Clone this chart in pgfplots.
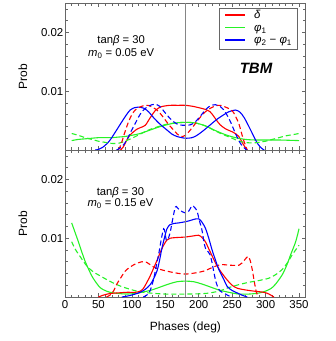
\documentclass[border=0pt]{standalone}
\usepackage{fontspec}
\setmainfont{Liberation Sans}
\usepackage{pgfplots}
\pgfplotsset{compat=1.18}
\definecolor{myred}{rgb}{1,0,0}
\definecolor{mygreen}{rgb}{0.15,0.95,0.15}
\definecolor{myblue}{rgb}{0,0,1}
\definecolor{frame}{rgb}{0.4,0.4,0.4}
\pgfplotsset{
  panel/.style={
    scale only axis, width=240.7bp, height=147bp,
    xmin=0, xmax=360, ymin=0, ymax=0.025,
    scaled y ticks=false,
    axis line style={frame, line width=0.7pt},
    tick style={frame, line width=0.5pt},
    major tick length=4bp, minor tick length=2.5bp,
    tick align=inside,
    xtick={0,50,...,350}, minor xtick={0,10,...,360},
    ytick={0.01,0.02}, yticklabels={0.01,0.02},
    minor ytick={0.002,0.004,0.006,0.008,0.012,0.014,0.016,0.018,0.022,0.024},
    tick label style={font=\fontsize{11.5}{13}\selectfont},
    yticklabel style={inner xsep=1.5bp},
    ylabel={Prob},
    ylabel style={at={(axis description cs:-0.175,0.5)}, anchor=center, rotate=0, font=\fontsize{12}{14}\selectfont},
    every axis plot/.append style={line width=1.1pt},
    smooth,
  },
  dsh/.style={dash pattern=on 5bp off 3bp},
}
\newcommand{\legline}[1]{\textcolor{#1}{\rule[0.28em]{20bp}{1.4bp}}}
\begin{document}
\begin{tikzpicture}
\path[use as bounding box] (0,0) rectangle (336bp,-341bp);
% ---------------- top panel -----------------
\begin{axis}[panel, at={(65bp,-3bp)}, anchor=north west,
  xticklabels={},
]
% red solid
\addplot[myred] coordinates {(83,0) (87,0.0005) (92.5,0.0017) (97,0.0025) (102.5,0.0031) (107,0.0035) (112.5,0.0038) (120,0.0042) (127.5,0.0055) (135,0.0067) (142.5,0.0073) (150,0.0075) (157.5,0.0076) (170,0.0076) (180,0.0076) (192.5,0.0074) (200,0.0072) (210,0.0069) (217,0.0065) (222,0.0058) (227,0.0050) (232,0.0043) (240,0.0036) (250,0.0031) (256,0.0027) (260,0.0023) (264,0.0015) (267.5,0.0008) (272.5,0)};
% green solid
\addplot[mygreen] coordinates {(10,0.0016) (20,0.0018) (30,0.0019) (40,0.0020) (50,0.0021) (60,0.0021) (70,0.0021) (80,0.0022) (90,0.0023) (100,0.0025) (112.5,0.0028) (125,0.0033) (140,0.0039) (152.5,0.0043) (165,0.0046) (180,0.0047) (195,0.0046) (210,0.0041) (225,0.0033) (240,0.0026) (255,0.0021) (270,0.0018) (285,0.0017) (300,0.0017) (320,0.0017) (350,0.0016)};
% blue solid
\addplot[myblue] coordinates {(45,0) (50,0.0001) (57,0.0005) (62,0.0010) (67.5,0.0017) (75,0.0030) (85,0.0048) (92,0.0060) (97.5,0.0068) (104,0.0072) (110,0.0073) (118,0.0071) (125,0.0065) (132.5,0.0055) (142,0.0044) (152.5,0.0034) (160,0.0027) (167.5,0.0023) (180,0.0020) (190,0.0021) (197.5,0.0025) (207,0.0033) (217.5,0.0043) (227,0.0052) (237.5,0.0060) (245,0.0065) (255,0.0068) (262,0.0064) (268,0.0055) (275,0.0040) (282,0.0024) (288,0.0011) (294,0.0003) (298,0)};
% green dashed
\addplot[mygreen, dsh] coordinates {(10,0.0028) (20,0.0025) (30,0.0021) (40,0.0018) (50,0.0015) (60,0.0013) (72,0.0011) (82,0.0012) (92,0.0016) (102,0.0021) (112.5,0.0027) (125,0.0034) (140,0.0040) (152.5,0.0044) (165,0.0046) (180,0.0047) (195,0.0046) (210,0.0041) (222,0.0034) (235,0.0027) (248,0.0021) (258,0.0016) (268,0.0013) (280,0.0012) (290,0.0013) (300,0.0015) (310,0.0018) (320,0.0021) (330,0.0024) (340,0.0026) (350,0.0028)};
% red dashed
\addplot[myred, dsh] coordinates {(80,0) (84,0.0010) (87.5,0.0023) (91,0.0035) (95,0.0048) (100,0.0060) (105,0.0068) (112,0.0073) (120,0.0076) (127,0.0075) (137.5,0.0068) (144,0.0060) (150,0.0051) (156,0.0042) (162.5,0.0034) (168,0.0027) (174,0.0023) (180,0.0025) (187.5,0.0034) (195,0.0045) (202.5,0.0056) (210,0.0065) (217.5,0.0071) (225,0.0075) (232.5,0.0076) (240,0.0073) (247.5,0.0069) (252,0.0064) (256,0.0055) (260,0.0045) (263,0.0033) (267,0.0017) (272.5,0)};
% blue dashed
\addplot[myblue, dsh] coordinates {(77,0) (82,0.0003) (87,0.0008) (92.5,0.0017) (98,0.0030) (105,0.0045) (110,0.0056) (115,0.0065) (122.5,0.0073) (130,0.0077) (135,0.0078) (142,0.0074) (150,0.0063) (156,0.0055) (162.5,0.0048) (170,0.0043) (180,0.0042) (188,0.0043) (195,0.0048) (202,0.0057) (210,0.0068) (217,0.0075) (225,0.0077) (232,0.0074) (237.5,0.0068) (243,0.0058) (247.5,0.0048) (255,0.0028) (260,0.0016) (265,0.0007) (272,0)};
\addplot[frame!80, line width=1.3pt, sharp plot] coordinates {(180,0) (180,0.025)};
\node[font=\fontsize{11.3}{13}\selectfont] at (axis cs:84,0.0186) {tan\textit{β} = 30};
\node[font=\fontsize{11.3}{13}\selectfont] at (axis cs:84,0.0164) {\textit{m}\textsubscript{0} = 0.05 eV};
\node[font=\fontsize{15}{17}\selectfont\bfseries\itshape] at (axis cs:285.7,0.0139) {TBM};
\node[draw=frame, line width=0.6pt, fill=white, anchor=north east, inner xsep=5.5bp, inner ysep=1.5bp,
      font=\fontsize{11.5}{12.5}\selectfont] at (rel axis cs:0.967,0.963)
  {\begin{tabular}{@{}l@{\hspace{9bp}}l@{}}
    \legline{myred} & \textit{δ}\\
    \legline{mygreen} & \textit{φ}\textsubscript{1}\\
    \legline{myblue} & \textit{φ}\textsubscript{2} − \textit{φ}\textsubscript{1}
   \end{tabular}};
\end{axis}
% ---------------- bottom panel -----------------
\begin{axis}[panel, at={(65bp,-150bp)}, anchor=north west,
  xticklabels={0,50,100,150,200,250,300,350},
  xlabel={Phases (deg)},
  xlabel style={at={(axis description cs:0.5,-0.207)}, anchor=center, font=\fontsize{12}{14}\selectfont},
]
% green solid
\addplot[mygreen] coordinates {(10,0.0126) (15,0.0110) (20,0.0094) (25,0.0077) (30,0.0061) (35,0.0048) (40,0.0036) (45,0.0027) (52.5,0.0016) (60,0.0011) (67.5,0.0008) (80,0.0006) (92.5,0.0005) (105,0.0006) (115,0.0008) (130,0.0012) (142.5,0.0017) (155,0.0022) (167.5,0.0026) (180,0.0027) (192.5,0.0026) (205,0.0022) (217.5,0.0017) (230,0.0012) (245,0.0008) (260,0.0005) (275,0.0005) (285,0.0006) (295,0.0008) (307.5,0.0014) (315,0.0022) (325,0.0038) (332,0.0055) (337.5,0.0072) (345,0.0094) (350,0.0116)};
% green dashed
\addplot[mygreen, dsh] coordinates {(10,0.0094) (15,0.0082) (22.5,0.0069) (32.5,0.0053) (42,0.0043) (52.5,0.0036) (65,0.0028) (77.5,0.0021) (92,0.0015) (107.5,0.0010) (125,0.0007) (150,0.0005) (180,0.0005) (210,0.0006) (230,0.0010) (245,0.0016) (260,0.0021) (275,0.0025) (290,0.0028) (305,0.0032) (315,0.0038) (325,0.0047) (332.5,0.0058) (340,0.0072) (350,0.0088)};
% red dashed
\addplot[myred, dsh] coordinates {(62,0) (67,0.0003) (72.5,0.0010) (77.5,0.0022) (82.5,0.0031) (90,0.0044) (97.5,0.0051) (105,0.0056) (115,0.0060) (122,0.0059) (132.5,0.0051) (142,0.0047) (152.5,0.0044) (165,0.0041) (180,0.0039) (195,0.0041) (207.5,0.0044) (220,0.0050) (232.5,0.0055) (247.5,0.0054) (260,0.0054) (265,0.0058) (270,0.0065) (274,0.0069) (277,0.0062) (280,0.0047) (283,0.0027) (286,0.0009) (289,0)};
% red solid
\addplot[myred] coordinates {(50,0) (57,0.0003) (67.5,0.0006) (80,0.0007) (92.5,0.0008) (105,0.0008) (112.5,0.0010) (117.5,0.0015) (122.5,0.0025) (127.5,0.0036) (132.5,0.0049) (137.5,0.0062) (142.5,0.0076) (147.5,0.0088) (152.5,0.0097) (157.5,0.0100) (165,0.0101) (180,0.0102) (192.5,0.0104) (200,0.0105) (205,0.0101) (210,0.0094) (215,0.0082) (220,0.0070) (225,0.0058) (232.5,0.0044) (242.5,0.0029) (250,0.0020) (257.5,0.0015) (270,0.0012) (282.5,0.0010) (297.5,0.0008) (305,0.0005) (312.5,0)};
% blue solid
\addplot[myblue] coordinates {(85,0) (95,0.0002) (105,0.0005) (112.5,0.0008) (120,0.0013) (127.5,0.0021) (132.5,0.0031) (137.5,0.0044) (141,0.0060) (145,0.0083) (149,0.0102) (152.5,0.0116) (157,0.0123) (162.5,0.0125) (170,0.0126) (180,0.0128) (187,0.0130) (192.5,0.0132) (200,0.0133) (205,0.0127) (210,0.0117) (215,0.0100) (220,0.0080) (225,0.0063) (230,0.0047) (237.5,0.0030) (242.5,0.0018) (250,0.0011) (257.5,0.0007) (265,0.0003) (272.5,0)};
% blue dashed
\addplot[myblue, dsh] coordinates {(117,0) (122,0.0003) (127,0.0010) (132.5,0.0030) (136,0.0050) (140,0.0072) (144,0.0098) (147.5,0.0116) (149.5,0.0110) (151.5,0.0097) (154,0.0098) (157.5,0.0111) (161,0.0132) (165,0.0153) (168,0.0152) (172.5,0.0147) (180,0.0143) (185,0.0146) (190,0.0155) (194,0.0152) (197.5,0.0146) (201,0.0130) (205,0.0113) (208,0.0092) (211,0.0080) (214,0.0077) (217,0.0072) (220,0.0058) (223,0.0040) (226,0.0025) (230,0.0013) (235,0.0008) (240,0.0005) (245,0.0002) (250,0)};
\addplot[frame!80, line width=1.3pt, sharp plot] coordinates {(180,0) (180,0.025)};
\node[font=\fontsize{11.3}{13}\selectfont] at (axis cs:83,0.0178) {tan\textit{β} = 30};
\node[font=\fontsize{11.3}{13}\selectfont] at (axis cs:83,0.0159) {\textit{m}\textsubscript{0} = 0.15 eV};
\end{axis}
\end{tikzpicture}
\end{document}
